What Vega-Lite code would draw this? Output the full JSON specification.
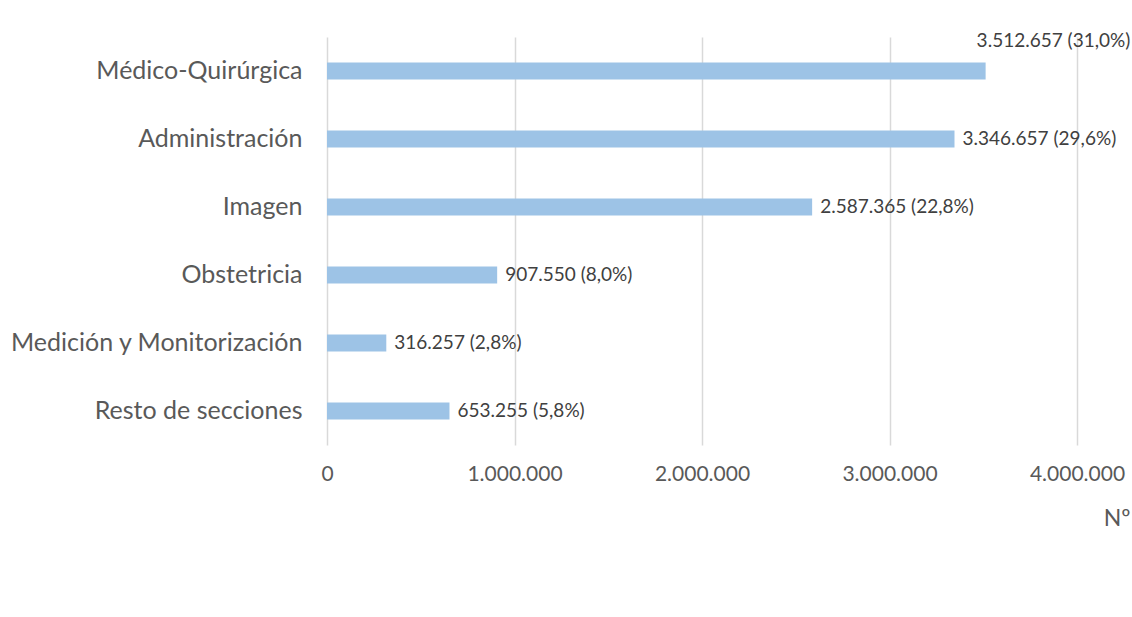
{
  "$schema": "https://vega.github.io/schema/vega-lite/v6.json",
  "autosize": {"type": "none"},
  "width": 750,
  "height": 408,
  "padding": {"left": 327, "top": 37, "right": 55, "bottom": 172},
  "background": "white",
  "config": {"view": {"stroke": null}, "font": "Lato"},
  "data": {
    "values": [
      {"seccion": "Médico-Quirúrgica", "valor": 3512657, "etiqueta": "3.512.657 (31,0%)"},
      {"seccion": "Administración", "valor": 3346657, "etiqueta": "3.346.657 (29,6%)"},
      {"seccion": "Imagen", "valor": 2587365, "etiqueta": "2.587.365 (22,8%)"},
      {"seccion": "Obstetricia", "valor": 907550, "etiqueta": "907.550 (8,0%)"},
      {"seccion": "Medición y Monitorización", "valor": 316257, "etiqueta": "316.257 (2,8%)"},
      {"seccion": "Resto de secciones", "valor": 653255, "etiqueta": "653.255 (5,8%)"}
    ]
  },
  "encoding": {
    "y": {
      "field": "seccion",
      "type": "nominal",
      "sort": null,
      "scale": {"paddingInner": 0.75, "paddingOuter": 0.375},
      "axis": {
        "title": null,
        "ticks": false,
        "domain": false,
        "labelFontSize": 25,
        "labelColor": "#595959",
        "labelPadding": 25,
        "labelFont": "Lato",
        "labelLimit": 400
      }
    },
    "x": {
      "field": "valor",
      "type": "quantitative",
      "scale": {"domain": [0, 4000000], "nice": false},
      "axis": {
        "values": [0, 1000000, 2000000, 3000000, 4000000],
        "labelExpr": "replace(format(datum.value, ',d'), /,/g, '.')",
        "labelFlush": false,
        "labelOverlap": false,
        "ticks": false,
        "domain": false,
        "grid": true,
        "gridColor": "#D9D9D9",
        "gridWidth": 1.5,
        "labelFontSize": 21,
        "labelColor": "#595959",
        "labelPadding": 18,
        "labelFont": "Lato",
        "title": "Nº",
        "titleFontSize": 23,
        "titleFontWeight": "normal",
        "titleColor": "#595959",
        "titleFont": "Lato",
        "titleAlign": "right",
        "titleBaseline": "middle",
        "titleX": 803,
        "titleY": 73
      }
    }
  },
  "layer": [
    {"mark": {"type": "bar", "color": "#9DC3E6"}},
    {
      "transform": [{"filter": "datum.seccion != 'Médico-Quirúrgica'"}],
      "mark": {"type": "text", "align": "left", "baseline": "middle", "dx": 8, "fontSize": 19, "color": "#404040", "font": "Lato"},
      "encoding": {"text": {"field": "etiqueta"}}
    },
    {
      "transform": [{"filter": "datum.seccion == 'Médico-Quirúrgica'"}],
      "mark": {"type": "text", "align": "left", "baseline": "middle", "dx": -9, "dy": -30, "fontSize": 19, "color": "#404040", "font": "Lato"},
      "encoding": {"text": {"field": "etiqueta"}}
    }
  ]
}
